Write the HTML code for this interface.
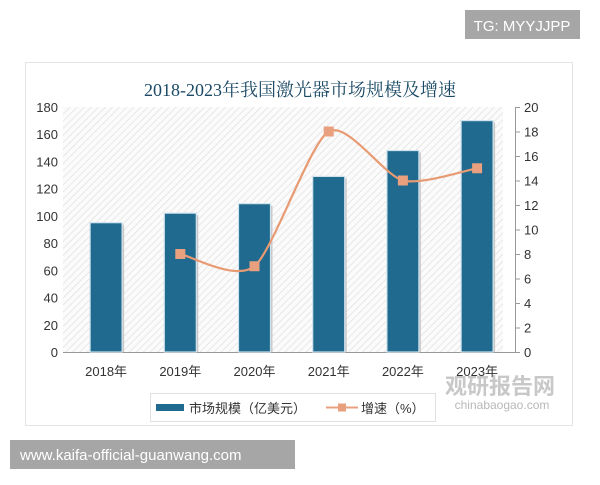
<!DOCTYPE html>
<html><head><meta charset="utf-8"><style>
body{margin:0;background:#fff;width:600px;height:480px;overflow:hidden;font-family:"Liberation Sans","Noto Sans CJK SC",sans-serif}
</style></head><body>
<svg width="600" height="480" xmlns="http://www.w3.org/2000/svg" id="svg">
<defs>
<pattern id="hatch" width="5" height="5" patternUnits="userSpaceOnUse" patternTransform="rotate(45)">
<rect width="5" height="5" fill="#fbfbfb"/><line x1="0" y1="0" x2="0" y2="5" stroke="#dcdcdc" stroke-width="1.2"/>
</pattern>
</defs>
<rect x="465" y="10" width="115" height="29" fill="#a6a6a6"/>
<text x="522" y="31" text-anchor="middle" font-size="15" fill="#fff">TG: MYYJJPP</text>
<rect x="25.5" y="62.5" width="547" height="363" fill="#fff" stroke="#e4e4e4"/>
<text x="300" y="96" text-anchor="middle" font-size="18" fill="#1b4a66" font-family="'Liberation Serif','Noto Serif CJK SC',serif">2018-2023年我国激光器市场规模及增速</text>
<rect x="63" y="107" width="440" height="245" fill="url(#hatch)"/>
<g id="chart"></g>
<rect x="150.5" y="393.5" width="285" height="28" fill="#fff" stroke="#e0e0e0"/>
<rect x="156" y="404" width="28" height="7" fill="#1f6a8e"/>
<text x="189" y="413" font-size="13" fill="#333">市场规模（亿美元）</text>
<line x1="326" y1="407.5" x2="358" y2="407.5" stroke="#e8a07f" stroke-width="2"/>
<rect x="338" y="403.5" width="8" height="8" fill="#e8a07f"/>
<text x="361" y="413" font-size="13" fill="#333">增速（%）</text>
<text x="500" y="394" text-anchor="middle" font-size="22" font-weight="bold" fill="#c8c8c8">观研报告网</text>
<text x="502" y="409" text-anchor="middle" font-size="12" fill="#b8b8b8">chinabaogao.com</text>
<rect x="10" y="440" width="285" height="29" fill="#a6a6a6"/>
<text x="20" y="460" font-size="15" fill="#fff">www.kaifa-official-guanwang.com</text>
</svg>
<script>
const categories=["2018年","2019年","2020年","2021年","2022年","2023年"];
const marketSize=[95,102,109,129,148,170];
const growth=[null,8,7,18,14,15];
const leftTicks=[0,20,40,60,80,100,120,140,160,180];
const rightTicks=[0,2,4,6,8,10,12,14,16,18,20];
const NS="http://www.w3.org/2000/svg";
const g=document.getElementById('chart');
const x0=69,band=74.2,yTop=107,yBot=352;
const xC=i=>x0+band*(i+0.5);
const yL=v=>yBot-(v/180)*(yBot-yTop);
const yR=v=>yBot-(v/20)*(yBot-yTop);
function mk(t,a){const e=document.createElementNS(NS,t);for(const k in a)e.setAttribute(k,a[k]);g.appendChild(e);return e;}
leftTicks.forEach(v=>{const t=mk('text',{x:58,y:yL(v)+5,'text-anchor':'end','font-size':13,fill:'#333'});t.textContent=v;

});
mk('line',{x1:515.5,y1:yTop,x2:515.5,y2:yBot,stroke:'#999'});
rightTicks.forEach(v=>{const l=mk('line',{x1:515,y1:yR(v)+.5,x2:520,y2:yR(v)+.5,stroke:'#999'});


const t=mk('text',{x:524,y:yR(v)+5,'font-size':13,fill:'#333'});t.textContent=v;

});
mk('line',{x1:63,y1:yBot+.5,x2:515,y2:yBot+.5,stroke:'#999'});
categories.forEach((c,i)=>{const v=marketSize[i];const w=32;
const s=mk('rect',{x:xC(i)-w/2+2,y:yL(v)+2,width:w,height:yBot-yL(v)-2,fill:'#c8c8c8'});


const r=mk('rect',{x:xC(i)-w/2,y:yL(v),width:w,height:yBot-yL(v),fill:'#1f6a8e',stroke:'#cfe3ee','stroke-width':1.2});


const t=mk('text',{x:xC(i),y:376,'text-anchor':'middle','font-size':13,fill:'#333'});t.textContent=c;

});
const pts=[];growth.forEach((v,i)=>{if(v!=null)pts.push([xC(i),yR(v)]);});
let d='M'+pts[0][0]+','+pts[0][1];
for(let i=0;i<pts.length-1;i++){const p0=pts[i-1]||pts[i],p1=pts[i],p2=pts[i+1],p3=pts[i+2]||p2;const k=1/8;
d+=` C${p1[0]+(p2[0]-p0[0])*k},${p1[1]+(p2[1]-p0[1])*k} ${p2[0]-(p3[0]-p1[0])*k},${p2[1]-(p3[1]-p1[1])*k} ${p2[0]},${p2[1]}`;}
const path=mk('path',{d:d,fill:'none',stroke:'#e89a72','stroke-width':2.2});


pts.forEach(p=>{const m=mk('rect',{x:p[0]-5,y:p[1]-5,width:10,height:10,fill:'#e8a07f'});

});
</script>
</body></html>
